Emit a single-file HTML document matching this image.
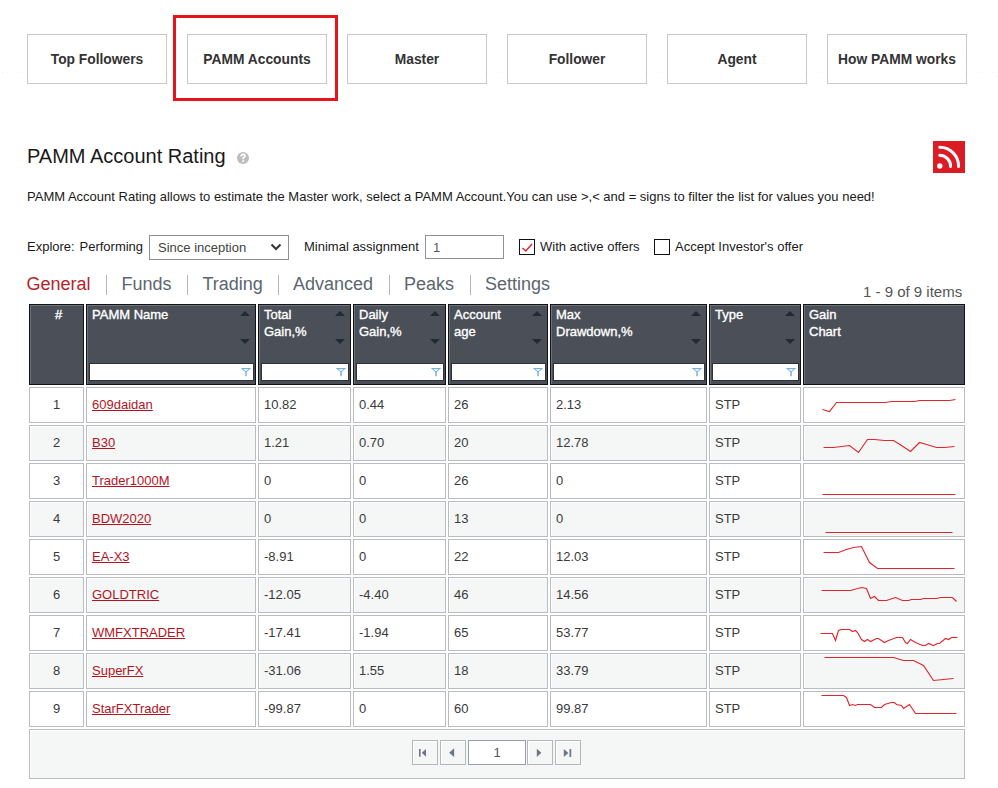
<!DOCTYPE html>
<html><head><meta charset="utf-8"><style>
*{box-sizing:border-box;margin:0;padding:0}
html,body{width:998px;height:788px;overflow:hidden;background:#fff}
body{position:relative;font-family:"Liberation Sans",sans-serif;color:#1a1a1a}
.abs{position:absolute}
.btn{position:absolute;top:34px;width:140px;height:50px;border:1px solid #c8c8c8;background:#fff;font-weight:bold;font-size:13.8px;color:#333;text-align:center;line-height:50px;white-space:nowrap}
.t{position:absolute;white-space:nowrap;line-height:16px}
.hc{position:absolute;top:304px;height:81px;background:#4b5058;border:1px solid #111316;box-shadow:inset 1px 1px 0 #6e737a;color:#fff;font-size:13px;line-height:17px;padding:1px 0 0 5px;-webkit-text-stroke:0.35px #fff}
.up{position:absolute;width:0;height:0;border-left:5px solid transparent;border-right:5px solid transparent;border-bottom:5px solid #1f2a32;top:6px}
.dn{position:absolute;width:0;height:0;border-left:5px solid transparent;border-right:5px solid transparent;border-top:5px solid #1f2a32;top:34px}
.fi{position:absolute;top:58px;height:18px;background:#fff;border:1px solid #2f3338}
.bc{position:absolute;height:36px;border:1px solid #b9bcc0;background:#fff;font-size:13px;color:#3a3a3a;line-height:34px;padding-left:5px;white-space:nowrap}
.alt{background:#f5f6f6;box-shadow:inset 1px 1px 0 #fff}
a{color:#b5141f;text-decoration:underline}
.tab{position:absolute;top:273px;font-size:18px;color:#5b6670;line-height:22px;white-space:nowrap}
.sep{position:absolute;top:275px;width:1px;height:20px;background:#b4b8bc}
.pb{position:absolute;top:740px;width:26px;height:25px;border:1px solid #b4b8bc;background:#f5f6f6;box-shadow:inset 1px 1px 0 #fff}
</style></head><body>

<div class="abs" style="left:0;top:72px;width:998px;height:1px;background:repeating-linear-gradient(90deg,transparent 0,transparent 2px,#f4f4f4 2px,#f4f4f4 3px,transparent 3px,transparent 5px)"></div>
<div class="btn" style="left:27px">Top Followers</div>
<div class="btn" style="left:187px">PAMM Accounts</div>
<div class="btn" style="left:347px">Master</div>
<div class="btn" style="left:507px">Follower</div>
<div class="btn" style="left:667px">Agent</div>
<div class="btn" style="left:827px">How PAMM works</div>
<div class="abs" style="left:173px;top:15px;width:165px;height:86px;border:3px solid #e8141c"></div>
<div class="t" style="left:27px;top:144px;font-size:20px;line-height:24px;color:#1a1a1a">PAMM Account Rating</div>
<svg class="abs" style="left:237px;top:152px" width="12" height="12" viewBox="0 0 12 12"><circle cx="6" cy="6" r="6" fill="#bdbdbd"/><path d="M4.1 4.6 C4.1 3 5 2.3 6.1 2.3 C7.3 2.3 8 3.1 8 4 C8 5.1 6.6 5.4 6.2 6.2 V7.3" stroke="#fff" stroke-width="1.7" fill="none"/><rect x="5.3" y="8.3" width="1.8" height="1.7" fill="#fff"/></svg>
<svg class="abs" style="left:933px;top:141px" width="32" height="32" viewBox="0 0 32 32"><rect width="32" height="32" fill="#dc1c24"/>
<circle cx="6.8" cy="25" r="2.7" fill="#fff"/>
<path d="M6.8 14.3 A11 11 0 0 1 17.6 25.4" stroke="#fff" stroke-width="3" fill="none" stroke-linecap="round"/>
<path d="M6.8 6.2 A19 19 0 0 1 25.6 25.4" stroke="#fff" stroke-width="3" fill="none" stroke-linecap="round"/></svg>
<div class="t" style="left:27px;top:189px;font-size:13px;color:#1a1a1a">PAMM Account Rating allows to estimate the Master work, select a PAMM Account.You can use &gt;,&lt; and = signs to filter the list for values you need!</div>
<div class="t" style="left:27px;top:239px;font-size:13px">Explore:</div><div class="t" style="left:79.5px;top:239px;font-size:13px">Performing</div>
<div class="abs" style="left:149px;top:235px;width:140px;height:25px;border:1px solid #8e9297;background:#fff"></div>
<div class="t" style="left:158px;top:239.5px;font-size:13px;color:#444">Since inception</div>
<svg class="abs" style="left:270px;top:243px" width="12" height="8" viewBox="0 0 12 8"><path d="M1.5 1.5 L6 6 L10.5 1.5" stroke="#333" stroke-width="2" fill="none"/></svg>
<div class="t" style="left:304px;top:239px;font-size:13px">Minimal assignment</div>
<div class="abs" style="left:425px;top:235px;width:79px;height:24px;border:1px solid #8e9297;background:#fff"></div>
<div class="t" style="left:433px;top:239.5px;font-size:13px;color:#555">1</div>
<div class="abs" style="left:519px;top:239px;width:16px;height:16px;border:1px solid #111;background:#fff"></div>
<svg class="abs" style="left:519px;top:239px" width="17" height="17" viewBox="0 0 17 17"><path d="M3.5 9 L6.8 12 L13 5" stroke="#e1252d" stroke-width="1.5" fill="none"/></svg>
<div class="t" style="left:540px;top:239px;font-size:13px">With active offers</div>
<div class="abs" style="left:654px;top:239px;width:16px;height:16px;border:1px solid #111;background:#fff"></div>
<div class="t" style="left:675px;top:239px;font-size:13px">Accept Investor's offer</div>
<div class="tab" style="left:26.5px;color:#b3242b">General</div>
<div class="tab" style="left:121.5px;">Funds</div>
<div class="tab" style="left:202.5px;">Trading</div>
<div class="tab" style="left:293px;">Advanced</div>
<div class="tab" style="left:404px;">Peaks</div>
<div class="tab" style="left:485px;">Settings</div>
<div class="sep" style="left:106px"></div>
<div class="sep" style="left:187px"></div>
<div class="sep" style="left:278px"></div>
<div class="sep" style="left:389px"></div>
<div class="sep" style="left:470px"></div>
<div class="t" style="left:863px;top:283px;font-size:15px;line-height:18px;color:#555">1 - 9 of 9 items</div>
<div class="hc" style="left:29px;width:55px;text-align:center;padding-left:4px">#</div>
<div class="hc" style="left:86px;width:170px">PAMM Name<div class="up" style="left:153px"></div><div class="dn" style="left:153px"></div><div class="fi" style="left:2px;width:165px"></div><svg class="abs" style="left:153px;top:62px" width="12" height="10" viewBox="0 0 12 10"><path d="M0.8 0.9 H11.2 L6.8 5.1 V9.3 H5.3 V5.1 Z M3.3 2.3 L6 4.3 L8.7 2.3 Z" fill="#78b2d8" fill-rule="evenodd"/></svg></div>
<div class="hc" style="left:258px;width:93px">Total<br>Gain,%<div class="up" style="left:76px"></div><div class="dn" style="left:76px"></div><div class="fi" style="left:2px;width:88px"></div><svg class="abs" style="left:76px;top:62px" width="12" height="10" viewBox="0 0 12 10"><path d="M0.8 0.9 H11.2 L6.8 5.1 V9.3 H5.3 V5.1 Z M3.3 2.3 L6 4.3 L8.7 2.3 Z" fill="#78b2d8" fill-rule="evenodd"/></svg></div>
<div class="hc" style="left:353px;width:93px">Daily<br>Gain,%<div class="up" style="left:76px"></div><div class="dn" style="left:76px"></div><div class="fi" style="left:2px;width:88px"></div><svg class="abs" style="left:76px;top:62px" width="12" height="10" viewBox="0 0 12 10"><path d="M0.8 0.9 H11.2 L6.8 5.1 V9.3 H5.3 V5.1 Z M3.3 2.3 L6 4.3 L8.7 2.3 Z" fill="#78b2d8" fill-rule="evenodd"/></svg></div>
<div class="hc" style="left:448px;width:100px">Account<br>age<div class="up" style="left:83px"></div><div class="dn" style="left:83px"></div><div class="fi" style="left:2px;width:95px"></div><svg class="abs" style="left:83px;top:62px" width="12" height="10" viewBox="0 0 12 10"><path d="M0.8 0.9 H11.2 L6.8 5.1 V9.3 H5.3 V5.1 Z M3.3 2.3 L6 4.3 L8.7 2.3 Z" fill="#78b2d8" fill-rule="evenodd"/></svg></div>
<div class="hc" style="left:550px;width:157px">Max<br>Drawdown,%<div class="up" style="left:140px"></div><div class="dn" style="left:140px"></div><div class="fi" style="left:2px;width:152px"></div><svg class="abs" style="left:140px;top:62px" width="12" height="10" viewBox="0 0 12 10"><path d="M0.8 0.9 H11.2 L6.8 5.1 V9.3 H5.3 V5.1 Z M3.3 2.3 L6 4.3 L8.7 2.3 Z" fill="#78b2d8" fill-rule="evenodd"/></svg></div>
<div class="hc" style="left:709px;width:92px">Type<div class="up" style="left:75px"></div><div class="dn" style="left:75px"></div><div class="fi" style="left:2px;width:87px"></div><svg class="abs" style="left:75px;top:62px" width="12" height="10" viewBox="0 0 12 10"><path d="M0.8 0.9 H11.2 L6.8 5.1 V9.3 H5.3 V5.1 Z M3.3 2.3 L6 4.3 L8.7 2.3 Z" fill="#78b2d8" fill-rule="evenodd"/></svg></div>
<div class="hc" style="left:803px;width:162px">Gain<br>Chart</div>
<div class="bc" style="left:29px;top:387px;width:55px;text-align:center;padding-left:0">1</div>
<div class="bc" style="left:86px;top:387px;width:170px"><a>609daidan</a></div>
<div class="bc" style="left:258px;top:387px;width:93px">10.82</div>
<div class="bc" style="left:353px;top:387px;width:93px">0.44</div>
<div class="bc" style="left:448px;top:387px;width:100px">26</div>
<div class="bc" style="left:550px;top:387px;width:157px">2.13</div>
<div class="bc" style="left:709px;top:387px;width:92px">STP</div>
<div class="bc" style="left:803px;top:387px;width:162px;padding:0"><svg class="abs" style="left:-1px;top:-1px" width="162" height="36"><polyline points="19.5,22.5 26.5,24.5 33.5,15.5 82.5,15.5 88.5,14.5 111.5,14.5 116.5,13.5 146.5,13.5 152.5,12.5" fill="none" stroke="#df262d" stroke-width="1.15"/></svg></div>
<div class="bc alt" style="left:29px;top:425px;width:55px;text-align:center;padding-left:0">2</div>
<div class="bc alt" style="left:86px;top:425px;width:170px"><a>B30</a></div>
<div class="bc alt" style="left:258px;top:425px;width:93px">1.21</div>
<div class="bc alt" style="left:353px;top:425px;width:93px">0.70</div>
<div class="bc alt" style="left:448px;top:425px;width:100px">20</div>
<div class="bc alt" style="left:550px;top:425px;width:157px">12.78</div>
<div class="bc alt" style="left:709px;top:425px;width:92px">STP</div>
<div class="bc alt" style="left:803px;top:425px;width:162px;padding:0"><svg class="abs" style="left:-1px;top:-1px" width="162" height="36"><polyline points="20.5,22.5 30.5,22.5 46.5,20.5 55.5,27.5 64.5,14.5 71.5,14.5 81.5,15.5 90.5,15.5 98.5,20.5 107.5,26.5 116.5,17.5 123.5,19.5 133.5,22.5 141.5,22.5 151.5,21.5" fill="none" stroke="#df262d" stroke-width="1.15"/></svg></div>
<div class="bc" style="left:29px;top:463px;width:55px;text-align:center;padding-left:0">3</div>
<div class="bc" style="left:86px;top:463px;width:170px"><a>Trader1000M</a></div>
<div class="bc" style="left:258px;top:463px;width:93px">0</div>
<div class="bc" style="left:353px;top:463px;width:93px">0</div>
<div class="bc" style="left:448px;top:463px;width:100px">26</div>
<div class="bc" style="left:550px;top:463px;width:157px">0</div>
<div class="bc" style="left:709px;top:463px;width:92px">STP</div>
<div class="bc" style="left:803px;top:463px;width:162px;padding:0"><svg class="abs" style="left:-1px;top:-1px" width="162" height="36"><polyline points="19.5,31.5 152.5,31.5" fill="none" stroke="#df262d" stroke-width="1.15"/></svg></div>
<div class="bc alt" style="left:29px;top:501px;width:55px;text-align:center;padding-left:0">4</div>
<div class="bc alt" style="left:86px;top:501px;width:170px"><a>BDW2020</a></div>
<div class="bc alt" style="left:258px;top:501px;width:93px">0</div>
<div class="bc alt" style="left:353px;top:501px;width:93px">0</div>
<div class="bc alt" style="left:448px;top:501px;width:100px">13</div>
<div class="bc alt" style="left:550px;top:501px;width:157px">0</div>
<div class="bc alt" style="left:709px;top:501px;width:92px">STP</div>
<div class="bc alt" style="left:803px;top:501px;width:162px;padding:0"><svg class="abs" style="left:-1px;top:-1px" width="162" height="36"><polyline points="22.5,31.5 149.5,31.5" fill="none" stroke="#df262d" stroke-width="1.15"/></svg></div>
<div class="bc" style="left:29px;top:539px;width:55px;text-align:center;padding-left:0">5</div>
<div class="bc" style="left:86px;top:539px;width:170px"><a>EA-X3</a></div>
<div class="bc" style="left:258px;top:539px;width:93px">-8.91</div>
<div class="bc" style="left:353px;top:539px;width:93px">0</div>
<div class="bc" style="left:448px;top:539px;width:100px">22</div>
<div class="bc" style="left:550px;top:539px;width:157px">12.03</div>
<div class="bc" style="left:709px;top:539px;width:92px">STP</div>
<div class="bc" style="left:803px;top:539px;width:162px;padding:0"><svg class="abs" style="left:-1px;top:-1px" width="162" height="36"><polyline points="20.5,13.5 35.5,13.5 43.5,10.5 50.5,8.5 58.5,7.5 66.5,23.5 74.5,29.5 151.5,29.5" fill="none" stroke="#df262d" stroke-width="1.15"/></svg></div>
<div class="bc alt" style="left:29px;top:577px;width:55px;text-align:center;padding-left:0">6</div>
<div class="bc alt" style="left:86px;top:577px;width:170px"><a>GOLDTRIC</a></div>
<div class="bc alt" style="left:258px;top:577px;width:93px">-12.05</div>
<div class="bc alt" style="left:353px;top:577px;width:93px">-4.40</div>
<div class="bc alt" style="left:448px;top:577px;width:100px">46</div>
<div class="bc alt" style="left:550px;top:577px;width:157px">14.56</div>
<div class="bc alt" style="left:709px;top:577px;width:92px">STP</div>
<div class="bc alt" style="left:803px;top:577px;width:162px;padding:0"><svg class="abs" style="left:-1px;top:-1px" width="162" height="36"><polyline points="18.5,13.5 47.5,13.5 58.5,10.5 63.5,11.5 67.5,21.5 71.5,19.5 75.5,23.5 83.5,23.5 92.5,20.5 99.5,23.5 105.5,23.5 108.5,22.5 117.5,22.5 120.5,21.5 133.5,21.5 137.5,20.5 149.5,20.5 153.5,24.5" fill="none" stroke="#df262d" stroke-width="1.15"/></svg></div>
<div class="bc" style="left:29px;top:615px;width:55px;text-align:center;padding-left:0">7</div>
<div class="bc" style="left:86px;top:615px;width:170px"><a>WMFXTRADER</a></div>
<div class="bc" style="left:258px;top:615px;width:93px">-17.41</div>
<div class="bc" style="left:353px;top:615px;width:93px">-1.94</div>
<div class="bc" style="left:448px;top:615px;width:100px">65</div>
<div class="bc" style="left:550px;top:615px;width:157px">53.77</div>
<div class="bc" style="left:709px;top:615px;width:92px">STP</div>
<div class="bc" style="left:803px;top:615px;width:162px;padding:0"><svg class="abs" style="left:-1px;top:-1px" width="162" height="36"><polyline points="17.5,18.5 29.5,18.5 32.5,25.5 35.5,15.5 38.5,14.5 46.5,14.5 49.5,16.5 52.5,15.5 54.5,17.5 58.5,24.5 61.5,26.5 64.5,24.5 67.5,26.5 73.5,23.5 75.5,23.5 81.5,27.5 85.5,25.5 93.5,22.5 99.5,22.5 102.5,27.5 104.5,28.5 107.5,24.5 112.5,27.5 119.5,30.5 122.5,30.5 125.5,28.5 130.5,30.5 134.5,28.5 136.5,28.5 142.5,23.5 145.5,24.5 148.5,22.5 154.5,22.5" fill="none" stroke="#df262d" stroke-width="1.15"/></svg></div>
<div class="bc alt" style="left:29px;top:653px;width:55px;text-align:center;padding-left:0">8</div>
<div class="bc alt" style="left:86px;top:653px;width:170px"><a>SuperFX</a></div>
<div class="bc alt" style="left:258px;top:653px;width:93px">-31.06</div>
<div class="bc alt" style="left:353px;top:653px;width:93px">1.55</div>
<div class="bc alt" style="left:448px;top:653px;width:100px">18</div>
<div class="bc alt" style="left:550px;top:653px;width:157px">33.79</div>
<div class="bc alt" style="left:709px;top:653px;width:92px">STP</div>
<div class="bc alt" style="left:803px;top:653px;width:162px;padding:0"><svg class="abs" style="left:-1px;top:-1px" width="162" height="36"><polyline points="21.5,4.5 90.5,4.5 100.5,7.5 110.5,7.5 120.5,12.5 130.5,27.5 150.5,25.5" fill="none" stroke="#df262d" stroke-width="1.15"/></svg></div>
<div class="bc" style="left:29px;top:691px;width:55px;text-align:center;padding-left:0">9</div>
<div class="bc" style="left:86px;top:691px;width:170px"><a>StarFXTrader</a></div>
<div class="bc" style="left:258px;top:691px;width:93px">-99.87</div>
<div class="bc" style="left:353px;top:691px;width:93px">0</div>
<div class="bc" style="left:448px;top:691px;width:100px">60</div>
<div class="bc" style="left:550px;top:691px;width:157px">99.87</div>
<div class="bc" style="left:709px;top:691px;width:92px">STP</div>
<div class="bc" style="left:803px;top:691px;width:162px;padding:0"><svg class="abs" style="left:-1px;top:-1px" width="162" height="36"><polyline points="18.5,4.5 40.5,4.5 43.5,6.5 46.5,14.5 49.5,13.5 52.5,14.5 54.5,13.5 67.5,13.5 71.5,16.5 78.5,16.5 81.5,13.5 88.5,11.5 91.5,11.5 93.5,13.5 98.5,14.5 100.5,17.5 106.5,13.5 112.5,22.5 153.5,22.5" fill="none" stroke="#df262d" stroke-width="1.15"/></svg></div>
<div class="abs" style="left:29px;top:729px;width:936px;height:50px;border:1px solid #b9bcc0;background:#f5f6f6;box-shadow:inset 1px 1px 0 #fff"></div>
<div class="pb" style="left:412px"><svg class="abs" style="left:-1px;top:-1px" width="26" height="25"><rect x="7" y="9" width="1.6" height="7.7" fill="#6b7780"/><path d="M9.8 12.85 L14 9 V16.7 Z" fill="#6b7780"/></svg></div>
<div class="pb" style="left:440px"><svg class="abs" style="left:-1px;top:-1px" width="26" height="25"><path d="M9.2 12.7 L14.1 8.3 V17.1 Z" fill="#6b7780"/></svg></div>
<div class="pb" style="left:527px"><svg class="abs" style="left:-1px;top:-1px" width="26" height="25"><path d="M14.4 12.85 L9.8 8.7 V17 Z" fill="#6b7780"/></svg></div>
<div class="pb" style="left:555px"><svg class="abs" style="left:-1px;top:-1px" width="26" height="25"><path d="M13.4 13 L8.8 9 V17 Z" fill="#6b7780"/><rect x="14.5" y="9" width="1.7" height="8" fill="#6b7780"/></svg></div>
<div class="abs" style="left:468px;top:740px;width:58px;height:25px;border:1px solid #9aa0a6;background:#fff;font-size:13px;color:#555;text-align:center;line-height:23px">1</div>
</body></html>
